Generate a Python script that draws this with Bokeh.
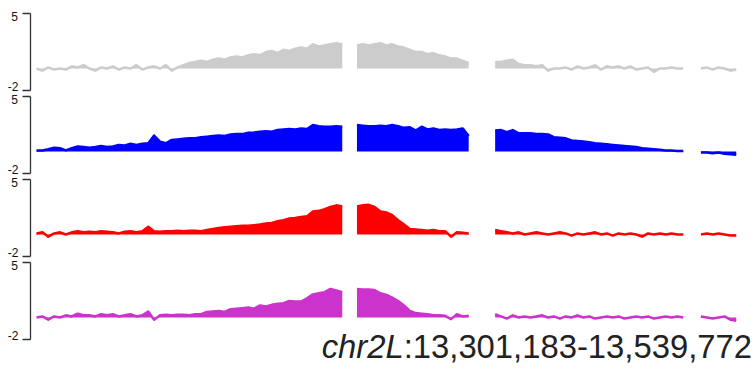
import numpy as np
from bokeh.plotting import figure
from bokeh.layouts import column
from bokeh.models import FixedTicker, Label, Range1d, Div, LinearAxis
from bokeh.embed import file_html
from bokeh.resources import INLINE

# genomic positions (kb from region start) of the bins, with gaps between segments
positions_kb = (list(range(0, 105, 2)) + list(range(109, 148, 2))
                + list(range(156, 221, 2)) + list(range(226, 239, 2)))

region_chrom = "chr2L"
region_span = ":13,301,183-13,539,772"
y_ticks = [-2, 5]
y_tick_labels = ["-2", "5"]

track_gray = [
    0.0, -0.2, 0.1, -0.1, 0.0, -0.1, 0.2, 0.1, 0.3, 0.0,
    -0.2, 0.1, 0.0, 0.2, -0.1, 0.1, 0.0, 0.3, -0.1, 0.1,
    0.2, 0.0, 0.3, -0.2, 0.1, 0.3, 0.5, 0.6, 0.7, 0.6,
    0.8, 0.9, 0.8, 1.0, 1.1, 1.0, 1.2, 1.3, 1.2, 1.5,
    1.6, 1.4, 1.7, 1.6, 1.8, 1.9, 1.8, 2.2, 2.0, 2.1,
    2.2, 2.3, 2.2,
    2.1, 2.2, 2.1, 2.2, 2.3, 2.1, 2.2, 2.0, 1.9, 1.7,
    1.5, 1.5, 1.3, 1.4, 1.2, 1.1, 0.9, 0.9, 0.7, 0.5,
    0.6, 0.6, 0.7, 0.8, 0.4, 0.3, 0.3, 0.2, 0.3, -0.2,
    0.0, 0.0, 0.1, -0.1, 0.2, 0.0, 0.1, 0.3, -0.1, 0.2,
    0.1, 0.2, 0.0, 0.2, -0.1, 0.0, 0.1, -0.3, 0.0, 0.0,
    0.1, 0.0, 0.0,
    0.0, 0.1, -0.1, 0.1, 0.0, -0.2, -0.1,
]

track_blue = [
    0.1, 0.1, 0.2, 0.35, 0.3, 0.1, 0.3, 0.45, 0.4, 0.35,
    0.4, 0.5, 0.4, 0.45, 0.6, 0.55, 0.7, 0.6, 0.7, 0.75,
    1.45, 0.9, 0.75, 1.05, 1.1, 1.15, 1.2, 1.2, 1.3, 1.35,
    1.4, 1.45, 1.42, 1.55, 1.6, 1.58, 1.7, 1.72, 1.8, 1.85,
    1.8, 1.95, 2.0, 2.05, 2.0, 2.1, 2.05, 2.4, 2.3, 2.25,
    2.25, 2.3, 2.25,
    2.4, 2.35, 2.3, 2.3, 2.35, 2.3, 2.4, 2.3, 2.15, 2.2,
    1.9, 2.25, 2.0, 2.1, 1.95, 2.0, 1.95, 2.0, 2.1, 1.4,
    1.9, 1.95, 1.75, 1.95, 1.65, 1.65, 1.65, 1.6, 1.6, 1.55,
    1.3, 1.25, 1.2, 1.0, 0.95, 0.9, 0.85, 0.75, 0.7, 0.65,
    0.6, 0.55, 0.5, 0.45, 0.4, 0.3, 0.25, 0.2, 0.15, 0.1,
    0.1, 0.05, 0.05,
    -0.1, -0.1, -0.15, -0.1, -0.2, -0.25, -0.3,
]

track_red = [
    0.1, 0.2, -0.2, 0.1, 0.2, 0.0, 0.2, 0.3, 0.2, 0.25,
    0.2, 0.3, 0.25, 0.2, 0.1, 0.25, 0.3, 0.2, 0.3, 0.7,
    0.3, 0.25, 0.3, 0.3, 0.35, 0.3, 0.35, 0.35, 0.3, 0.4,
    0.5, 0.6, 0.65, 0.7, 0.75, 0.8, 0.8, 0.85, 0.9, 1.0,
    1.05, 1.2, 1.3, 1.45, 1.5, 1.6, 1.65, 2.1, 2.15, 2.3,
    2.5, 2.65, 2.55,
    2.55, 2.65, 2.7, 2.5, 2.1, 2.0, 1.75, 1.3, 0.9, 0.5,
    0.45, 0.4, 0.35, 0.4, 0.3, 0.3, -0.2, 0.2, 0.15, 0.1,
    0.4, 0.3, 0.2, 0.1, 0.2, 0.0, 0.1, 0.2, 0.1, 0.0,
    0.1, 0.2, 0.1, -0.1, 0.1, 0.0, 0.1, 0.2, 0.0, 0.1,
    -0.1, 0.1, 0.0, 0.1, 0.0, -0.2, 0.1, 0.0, 0.1, 0.0,
    0.1, 0.0, 0.0,
    0.0, 0.1, 0.0, 0.1, 0.0, -0.1, -0.1,
]

track_magenta = [
    0.0, 0.1, -0.2, 0.1, 0.0, 0.2, 0.1, 0.35, 0.2, 0.2,
    0.1, 0.3, 0.2, 0.3, 0.1, 0.2, 0.3, 0.1, 0.2, 0.55,
    -0.2, 0.2, 0.25, 0.2, 0.25, 0.25, 0.2, 0.3, 0.3, 0.5,
    0.55, 0.6, 0.5, 0.75, 0.8, 0.85, 0.9, 0.8, 1.1, 1.0,
    1.15, 1.25, 1.3, 1.5, 1.45, 1.45, 1.75, 2.1, 2.2, 2.3,
    2.6, 2.45, 2.3,
    2.6, 2.55, 2.55, 2.5, 2.2, 2.05, 1.8, 1.5, 1.1, 0.6,
    0.4, 0.35, 0.3, 0.2, 0.2, 0.15, -0.15, 0.3, 0.1, 0.15,
    0.3, 0.1, -0.1, 0.2, 0.0, 0.1, 0.0, 0.1, 0.2, 0.0,
    0.1, -0.1, 0.1, 0.0, 0.2, 0.0, 0.1, -0.1, 0.0, 0.1,
    0.0, 0.1, -0.1, 0.0, 0.1, 0.0, 0.1, -0.1, 0.0, 0.1,
    0.0, 0.1, 0.0,
    0.1, 0.0, -0.1, 0.0, 0.1, -0.2, -0.3,
]

tracks = [track_gray, track_blue, track_red, track_magenta]
colors = ["#cccccc", "#0000ff", "#ff0000", "#cc33cc"]

W = 754
FRAME_W = W - 10
PX_PER_KB = 2.94
X_START = -36 / PX_PER_KB          # region start sits 36 px from the left edge
X_END = X_START + FRAME_W / PX_PER_KB
PX_PER_UNIT = 11.0                  # 77 px for the -2..5 span


def px_to_kb(px):
    return X_START + px / PX_PER_KB


pos = np.array(positions_kb, dtype=float)
breaks = np.where(np.diff(pos) > 2.5)[0] + 1
seg_idx = np.split(np.arange(len(pos)), breaks)

figs = []
for i, (vals, col) in enumerate(zip(tracks, colors)):
    pad_top = 13 if i == 0 else 3
    pad_bot = 3
    h = pad_top + 77 + pad_bot
    y0 = -2 - pad_bot / PX_PER_UNIT
    y1 = 5 + pad_top / PX_PER_UNIT
    p = figure(width=W, height=h, output_backend="svg", toolbar_location=None,
               x_axis_location=None, y_axis_location=None, title=None,
               x_range=Range1d(X_START, X_END), y_range=Range1d(y0, y1),
               min_border=0, min_border_left=0, min_border_right=10,
               min_border_top=0, min_border_bottom=0)
    p.outline_line_color = None
    p.grid.visible = False

    ax = LinearAxis(fixed_location=px_to_kb(30), bounds=(-2, 5))
    ax.ticker = FixedTicker(ticks=y_ticks)
    ax.axis_line_color = "#333333"
    ax.axis_line_width = 1.3
    ax.major_tick_line_color = "#333333"
    ax.major_tick_line_width = 1.3
    ax.major_tick_out = 8
    ax.major_tick_in = 0
    ax.minor_tick_line_color = None
    ax.major_label_text_font_size = "0px"
    ax.major_label_text_color = None
    p.add_layout(ax, "left")

    v = np.array(vals, dtype=float)
    for idx in seg_idx:
        xs = pos[idx]
        ys = v[idx]
        p.varea(x=xs, y1=np.zeros_like(ys), y2=ys, fill_color=col, fill_alpha=1.0)
        p.line(x=xs, y=ys, line_color=col, line_width=2.5, line_join="round")

    common = dict(text_font="Liberation Sans", text_font_size="12px",
                  text_color="#111111", text_align="right")
    for tv, tl in zip(y_ticks, y_tick_labels):
        if tv > 0:
            lab = Label(x=px_to_kb(17.5), y=tv + 2 / PX_PER_UNIT, text=tl,
                        text_baseline="top", **common)
        else:
            lab = Label(x=px_to_kb(18), y=tv, text=tl,
                        text_baseline="bottom", **common)
        p.add_layout(lab)
    figs.append(p)

region_html = (
    '<div style="position:relative; top:-16px; width:747px; text-align:right; '
    'white-space:nowrap; font-family:\'Liberation Sans\'; font-size:32.8px; '
    'line-height:32px; color:#222222;">'
    '<i>' + region_chrom + '</i>' + region_span + '</div>'
)
region_div = Div(text=region_html, width=W, height=30)

layout = column(*figs, region_div, spacing=0)
open("out.html", "w").write(file_html(layout, INLINE))
